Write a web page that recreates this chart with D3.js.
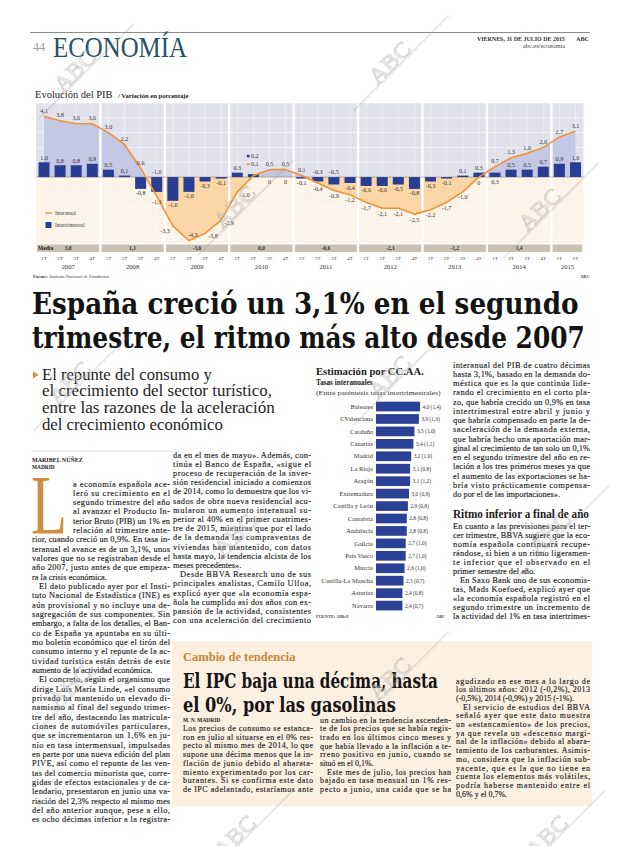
<!DOCTYPE html>
<html lang="es"><head><meta charset="utf-8">
<script src="https://cdn.jsdelivr.net/npm/d3@7/dist/d3.min.js"></script>
<style>html,body{margin:0;padding:0;background:#fff}svg{display:block}</style>
</head><body>
<svg id="page" width="620" height="846" xmlns="http://www.w3.org/2000/svg"></svg>
<script>
// ================= DATA =================
const years = ["2007","2008","2009","2010","2011","2012","2013","2014","2015"];
const quarterNames = ["1T","2T","3T","4T"];
const quartersPerYear = [4,4,4,4,4,4,4,4,2];
const interanual = [4.1,3.8,3.6,3.6, 3.0,2.2,0.6,-1.3, -3.3,-4.3,-3.8,-2.9, -1.0,0.1,0.5,0.5,
                    0.1,-0.4,-0.9,-1.2, -1.7,-2.1,-2.1,-2.5, -2.2,-1.7,-1.0,0.0, 0.7,1.3,1.6,2.0, 2.7,3.1];
const intertrimestral = [1.0,0.8,0.8,0.9, 0.5,0.1,-0.8,-1.0, -1.6,-1.0,-0.3,-0.1, 0.3,0.2,0,0,
                    -0.1,-0.3,-0.5,-0.4, -0.6,-0.6,-0.5,-0.8, -0.3,-0.1,0.1,0.3, 0.3,0.5,0.5,0.7, 0.9,1.0];
const mediaAnual = [3.8,1.1,-3.6,0.0,-0.6,-2.1,-1.2,1.4,null];

const regions = ["Baleares","CValenciana","Cataluña","Canarias","Madrid","La Rioja","Aragón","Extremadura",
  "Castilla y León","Cantabria","Andalucía","Galicia","País Vasco","Murcia","Castilla-La Mancha","Asturias","Navarra"];
const regionInteranual = [4.0,3.9,3.5,3.4,3.2,3.1,3.1,3.0,2.9,2.8,2.8,2.7,2.7,2.6,2.5,2.4,2.4];
const regionIntertrimestral = [1.4,1.3,1.0,1.1,1.0,0.8,1.2,0.9,0.8,0.8,0.8,1.0,1.0,1.0,0.7,0.8,0.7];

// ================= TEXT =================
const headline = ["España creció un 3,1% en el segundo","trimestre, el ritmo más alto desde 2007"];
const subhead = ["El repunte del consumo y","el crecimiento del sector turístico,","entre las razones de la aceleración","del crecimiento económico"];
const col1 = ["a economía española ace-","leró su crecimiento en el","segundo trimestre del año","al avanzar el Producto In-",
"terior Bruto (PIB) un 1% en","relación al trimestre ante-","rior, cuando creció un 0,9%. En tasa in-",
"teranual el avance es de un 3,1%, unos","valores que no se registraban desde el","año 2007, justo antes de que empeza-",
"ra la crisis económica.$",">El dato publicado ayer por el Insti-","tuto Nacional de Estadística (INE) es",
"aún provisional y no incluye una de-","sagregación de sus componentes. Sin","embargo, a falta de los detalles, el Ban-",
"co de España ya apuntaba en su últi-","mo boletín económico que el tirón del","consumo interno y el repunte de la ac-",
"tividad turística están detrás de este","aumento de la actividad económica.$",">El concreto, según el organismo que",
"dirige Luis María Linde, «el consumo","privado ha mantenido un elevado di-","namismo al final del segundo trimes-",
"tre del año, destacando las matricula-","ciones de automóviles particulares,","que se incrementaron un 1,6% en ju-",
"nio en tasa intermensual, impulsadas","en parte por una nueva edición del plan","PIVE, así como el repunte de las ven-",
"tas del comercio minorista que, corre-","gidas de efectos estacionales y de ca-","lendario, presentaron en junio una va-",
"riación del 2,3% respecto al mismo mes","del año anterior aunque, pese a ello,","es ocho décimas inferior a la registra-"];
const col2 = ["da en el mes de mayo». Además, con-","tinúa el Banco de España, «sigue el","proceso de recuperación de la inver-",
"sión residencial iniciado a comienzos","de 2014, como lo demuestra que los vi-","sados de obra nueva residencial acu-",
"mularon un aumento interanual su-","perior al 40% en el primer cuatrimes-","tre de 2015, mientras que por el lado",
"de la demanda las compraventas de","viviendas han mantenido, con datos","hasta mayo, la tendencia alcista de los",
"meses precedentes».$",">Desde BBVA Research uno de sus","principales analistas, Camilo Ulloa,",
"explicó ayer que «la economía espa-","ñola ha cumplido así dos años con ex-","pansión de la actividad, consistentes",
"con una aceleración del crecimiento"];
const col3a = ["interanual del PIB de cuatro décimas","hasta 3,1%, basado en la demanda do-","méstica que es la que continúa lide-",
"rando el crecimiento en el corto pla-","zo, que habría crecido un 0,9% en tasa","intertrimestral entre abril y junio y",
"que habría compensado en parte la de-","saceleración de la demanda externa,","que habría hecho una aportación mar-",
"ginal al crecimiento de tan solo un 0,1%","en el segundo trimestre del año en re-","lación a los tres primeros meses ya que",
"el aumento de las exportaciones se ha-","bría visto prácticamente compensa-","do por el de las importaciones».$"];
const col3b = ["En cuanto a las previsiones para el ter-","cer trimestre, BBVA sugiere que la eco-","nomía española continuará recupe-",
"rándose, si bien a un ritmo ligeramen-","te inferior que el observado en el","primer semestre del año.$",
">En Saxo Bank uno de sus economis-","tas, Mads Koefoed, explicó ayer que","«la economía española registró en el",
"segundo trimestre un incremento de","la actividad del 1% en tasa intertrimes-"];
const ipcA = ["Los precios de consumo se estanca-","ron en julio al situarse en el 0% res-","pecto al mismo mes de 2014, lo que",
"supone una décima menos que la in-","flación de junio debido al abarata-","miento experimentado por los car-",
"burantes. Si se confirma este dato","de IPC adelantado, estaríamos ante"];
const ipcB = ["un cambio en la tendencia ascenden-","te de los precios que se había regis-","trado en los últimos cinco meses y",
"que había llevado a la inflación a te-","rreno positivo en junio, cuando se","situó en el 0,1%.$",
">Este mes de julio, los precios han","bajado en tasa mensual un 1% res-","pecto a junio, una caída que se ha"];
const ipcC = ["agudizado en ese mes a lo largo de","los últimos años: 2012 (-0,2%), 2013","(-0,5%), 2014 (-0,9%) y 2015 (-1%).$",
">El servicio de estudios del BBVA","señaló ayer que este dato muestra","un «estancamiento» de los precios,",
"ya que revela un «descenso margi-","nal de la inflación» debido al abara-","tamiento de los carburantes. Asimis-",
"mo, considera que la inflación sub-","yacente, que es la que no tiene en","cuenta los elementos más volátiles,",
"podría haberse mantenido entre el","0,6% y el 0,7%.$"];

// ================= HELPERS =================
const svg = d3.select("#page");
const SERIF = "Liberation Serif, Times New Roman, serif";
const HF = "DejaVu Serif, serif";
const loc = d3.formatLocale({decimal:",", thousands:".", grouping:[3], currency:["","€"], minus:"-"});
const f1 = loc.format(".1f");
const fmt = v => v === 0 ? "0" : f1(v);

// place a text at (x,y) and scale it horizontally so that it spans width w
function fitAt(parent, str, x0, y0, w, attrs){
  const t = parent.append("text").attr("x",0).attr("y",0).text(str);
  Object.entries(attrs).forEach(([k,v])=>t.attr(k,v));
  const nat = t.node().getComputedTextLength();
  t.attr("transform",`translate(${x0},${y0}) scale(${w/nat},1)`);
  return t;
}

function drawBlock(lines, o){
  const g = svg.append("g").attr("font-family", o.family || SERIF).attr("font-size", o.size)
    .attr("fill", o.fill || "#1c1c1c").attr("stroke", o.fill || "#1c1c1c").attr("stroke-width", 0.14);
  lines.forEach((raw,i)=>{
    let s = raw, ind = 0, last = false;
    if (s[0] === ">") { s = s.slice(1); ind = o.indent || 8; }
    if (s.endsWith("$")) { s = s.slice(0,-1); last = true; }
    const xs = (o.startX ? o.startX(i) : o.x0) + ind;
    const yy = o.y0 + i*o.lh;
    const t = g.append("text").attr("x", 0).attr("y", 0).text(s);
    const w = t.node().getComputedTextLength();
    const target = o.x1 - xs;
    if (w > target) {
      t.attr("transform", `translate(${xs},${yy}) scale(${target/w},1)`);
    } else {
      t.attr("transform", `translate(${xs},${yy})`);
      if (!last) t.attr("textLength", target).attr("lengthAdjust","spacing");
    }
  });
  return g;
}

// ================= HEADER =================
svg.append("line").attr("x1",30).attr("x2",590).attr("y1",32.5).attr("y2",32.5).attr("stroke","#8c8c8c").attr("stroke-width",1);
svg.append("text").attr("x",33).attr("y",51).attr("font-family",SERIF).attr("font-size",12).attr("fill","#9d9d9d").text("44");
fitAt(svg,"ECONOMÍA",53,57,134,{"font-family":SERIF,"font-size":29,"fill":"#2c5064"});
fitAt(svg,"VIERNES, 31 DE JULIO DE 2015",477,41,88,{"font-family":SERIF,"font-weight":"bold","font-size":5.6,"fill":"#333"});
svg.append("text").attr("x",576).attr("y",41).attr("font-family",SERIF).attr("font-weight","bold").attr("font-size",6.2).attr("fill","#333").text("ABC");
fitAt(svg,"abc.es/economia",523,47.5,42,{"font-family":SERIF,"font-size":5.2,"fill":"#444"});

// ================= GDP CHART =================
const n = interanual.length;
const x = d3.scaleLinear().domain([0, n-1]).range([44, 575.5]);
const step = x(1) - x(0);
const y = d3.scaleLinear().domain([-4.45, 5]).range([243, 103]);
const PT = 103, PB = 243, Y0 = y(0);
let acc = 0;
const panels = years.map((yr,i)=>{ const s = acc; acc += quartersPerYear[i]; return {year:yr, s, e:acc-1, media:mediaAnual[i]}; });

const gC = svg.append("g");
gC.append("text").attr("x",35).attr("y",98).attr("font-family",SERIF).attr("font-size",10.5).attr("fill","#222").text("Evolución del PIB");
gC.append("text").attr("x",118).attr("y",97.5).attr("font-family",SERIF).attr("font-weight","bold").attr("font-size",6.6).attr("fill","#222").text("/ Variación en porcentaje");

panels.forEach(p=>{
  const xa = x(p.s) - step/2, xb = x(p.e) + step/2;
  gC.append("rect").attr("x",xa).attr("y",PT).attr("width",xb-xa).attr("height",Y0-PT).attr("fill","#e1e1ec");
  gC.append("rect").attr("x",xa).attr("y",Y0).attr("width",xb-xa).attr("height",PB-Y0).attr("fill","#fdf3e6");
});
const XL = x(0)-step/2, XR = x(n-1)+step/2;
d3.range(-4,6).filter(v=>v!==0).forEach(v=>{
  gC.append("line").attr("x1",XL).attr("x2",XR).attr("y1",y(v)).attr("y2",y(v)).attr("stroke","#fff").attr("stroke-width",0.6).attr("opacity",0.9);
});
d3.range(n).forEach(i=>{
  gC.append("line").attr("x1",x(i)).attr("x2",x(i)).attr("y1",PT).attr("y2",PB).attr("stroke","#fff").attr("stroke-width",0.5).attr("opacity",0.8);
});
const defs = svg.append("defs");
defs.append("clipPath").attr("id","clipUp").append("rect").attr("x",0).attr("y",PT).attr("width",620).attr("height",Y0-PT);
defs.append("clipPath").attr("id","clipDn").append("rect").attr("x",0).attr("y",Y0).attr("width",620).attr("height",PB-Y0);
const area = d3.area().x((d,i)=>x(i)).y0(Y0).y1(d=>y(d));
gC.append("path").datum(interanual).attr("d",area).attr("fill","#c4c8e4").attr("clip-path","url(#clipUp)");
gC.append("path").datum(interanual).attr("d",area).attr("fill","#fbd6a6").attr("clip-path","url(#clipDn)");
panels.slice(1).forEach(p=>{
  gC.append("rect").attr("x",x(p.s)-step/2-1.2).attr("y",PT).attr("width",2.4).attr("height",PB-PT+1).attr("fill","#fff");
});
gC.append("line").attr("x1",XL).attr("x2",XR).attr("y1",Y0).attr("y2",Y0).attr("stroke","#777").attr("stroke-width",0.5);
gC.selectAll("rect.bar").data(intertrimestral).join("rect").attr("class","bar")
  .attr("x",(d,i)=>x(i)-5.5).attr("width",11)
  .attr("y",d=>Math.min(y(d),Y0)).attr("height",d=>Math.abs(y(d)-Y0)).attr("fill","#293d93");
gC.append("path").datum(interanual).attr("d", d3.line().x((d,i)=>x(i)).y(d=>y(d)))
  .attr("fill","none").attr("stroke","#ef9339").attr("stroke-width",1.6).attr("stroke-linejoin","round");
// label placement rules (style only)
const barMode = {7:"aboveZero", 13:"special", 17:"aboveZero", 18:"aboveZero", 28:"belowZero"};
const lineMode = {8:"left", 9:"rightUp", 10:"right", 11:"right", 12:"right", 13:"special"};
const gL = gC.append("g").attr("font-family",SERIF).attr("font-size",6.1).attr("fill","#333").attr("text-anchor","middle");
intertrimestral.forEach((v,i)=>{
  const m = barMode[i];
  if (m === "special") return;
  let ly;
  if (m === "aboveZero") ly = Y0 - 3;
  else if (m === "belowZero") ly = Y0 + 6.5;
  else if (v > 0) ly = y(v) - 2.5;
  else if (v < 0) ly = y(v) + 6.5;
  else ly = Y0 + 6.5;
  gL.append("text").attr("x",x(i)).attr("y",ly).text(fmt(v));
});
interanual.forEach((v,i)=>{
  const m = lineMode[i];
  if (m === "special") return;
  let lx = x(i), ly, anchor = "middle";
  if (m === "left") { lx = x(i)-3; ly = y(v)+7; anchor = "end"; }
  else if (m === "rightUp") { lx = x(i)-1; ly = y(v)-4; anchor = "start"; }
  else if (m === "right") { lx = x(i)+3; ly = y(v)+5; anchor = "start"; }
  else if (v > 0) ly = y(v) - 3.5;
  else ly = y(v) + 7.5;
  gL.append("text").attr("x",lx).attr("y",ly).attr("text-anchor",anchor).text(fmt(v));
});
{
  const i = 13;
  gC.append("rect").attr("x",x(i)-6.5).attr("y",154.8).attr("width",2.6).attr("height",2.6).attr("fill","#293d93");
  gL.append("text").attr("x",x(i)-2.5).attr("y",158).attr("text-anchor","start").text(fmt(intertrimestral[i]));
  gC.append("circle").attr("cx",x(i)-5.2).attr("cy",164.3).attr("r",1.3).attr("fill","#ef9339");
  gL.append("text").attr("x",x(i)-2.5).attr("y",166.3).attr("text-anchor","start").text(fmt(interanual[i]));
}
const gLeg = gC.append("g").attr("font-family",SERIF).attr("font-size",5.2).attr("fill","#444");
gLeg.append("line").attr("x1",45).attr("x2",52).attr("y1",213).attr("y2",213).attr("stroke","#ef9339").attr("stroke-width",1.4);
gLeg.append("text").attr("x",55).attr("y",215).text("Interanual");
gLeg.append("rect").attr("x",45.5).attr("y",222).attr("width",6).attr("height",6).attr("fill","#293d93");
gLeg.append("text").attr("x",55).attr("y",227).text("Intertrimestral");
panels.forEach((p,k)=>{
  const xa = x(p.s) - step/2 + 1.2, xb = x(p.e) + step/2 - 1.2;
  gC.append("rect").attr("x",xa).attr("y",244.5).attr("width",xb-xa).attr("height",7.5).attr("fill","#c9c2b4");
  if (p.media !== null) gC.append("text").attr("x",(xa+xb)/2).attr("y",250.4).attr("text-anchor","middle")
    .attr("font-family",SERIF).attr("font-weight","bold").attr("font-size",5.6).attr("fill","#333").text(f1(p.media));
  gC.append("text").attr("x",(xa+xb)/2).attr("y",268.5).attr("text-anchor","middle")
    .attr("font-family",SERIF).attr("font-size",6.6).attr("fill","#333").text(p.year);
  d3.range(p.s,p.e+1).forEach((qi,j)=>{
    gC.append("text").attr("x",x(qi)).attr("y",259.5).attr("text-anchor","middle")
      .attr("font-family",SERIF).attr("font-size",5).attr("fill","#444").text(quarterNames[j]);
  });
});
gC.append("text").attr("x",38).attr("y",250.4).attr("font-family",SERIF).attr("font-weight","bold").attr("font-size",5.6).attr("fill","#222").text("Media");
const gF = gC.append("text").attr("x",33).attr("y",277.5).attr("font-family",SERIF).attr("font-size",4.6).attr("fill","#444");
gF.append("tspan").attr("font-weight","bold").text("Fuente: ");
gF.append("tspan").text("Instituto Nacional de Estadística");
gC.append("text").attr("x",580).attr("y",277.5).attr("font-family",SERIF).attr("font-weight","bold").attr("font-size",4.6).attr("fill","#444").text("ABC");

// ================= HEADLINE =================
fitAt(svg, headline[0], 32, 314, 547, {"font-family":HF,"font-weight":"bold","font-size":29,"fill":"#141414"});
fitAt(svg, headline[1], 32, 348, 553, {"font-family":HF,"font-weight":"bold","font-size":29,"fill":"#141414"});

svg.append("path").attr("d","M33,371.5 L38.5,375 L33,378.5 Z").attr("fill","#e08a33");
const subW = [170,230,233,181];
subhead.forEach((s,i)=>{
  fitAt(svg, s, 42, 379.5+i*16.7, subW[i], {"font-family":SERIF,"font-size":16.5,"fill":"#1e1e1e"});
});

svg.append("line").attr("x1",32).attr("x2",170).attr("y1",451).attr("y2",451).attr("stroke","#cfcfcf").attr("stroke-width",0.8);
svg.append("text").attr("x",32).attr("y",461.5).attr("font-family",SERIF).attr("font-weight","bold").attr("font-size",6).attr("fill","#222").text("MARIBEL NÚÑEZ");
svg.append("text").attr("x",32).attr("y",468.5).attr("font-family",SERIF).attr("font-weight","bold").attr("font-size",5.4).attr("fill","#222").text("MADRID");
fitAt(svg, "L", 31, 533.5, 36, {"font-family":SERIF,"font-size":84,"fill":"#d08d42"});

const LH = 9.33, FS = 8.4;
drawBlock(col1, {x0:32, x1:170, y0:486.5, lh:LH, size:FS, indent:7, startX: i => i < 6 ? 73 : 32});
drawBlock(col2, {x0:173, x1:311, y0:457.5, lh:9.2, size:FS, indent:7});
drawBlock(col3a, {x0:453, x1:590, y0:367.5, lh:9.25, size:FS, indent:7});
fitAt(svg, "Ritmo inferior a final de año", 453, 518, 136, {"font-family":SERIF,"font-weight":"bold","font-size":11.8,"fill":"#1a1a1a"});
drawBlock(col3b, {x0:453, x1:590, y0:528.5, lh:9.05, size:FS, indent:7});

// ================= CCAA CHART =================
const gR = svg.append("g");
fitAt(gR, "Estimación por CC.AA.", 316, 375, 108, {"font-family":SERIF,"font-weight":"bold","font-size":10.2,"fill":"#222"});
gR.append("text").attr("x",316).attr("y",384.5).attr("font-family",SERIF).attr("font-weight","bold").attr("font-size",7.2).attr("fill","#222").text("Tasas interanuales");
fitAt(gR, "(Entre paréntesis tasas intertrimestrales)", 316, 394.5, 125, {"font-family":SERIF,"font-size":6.8,"fill":"#333"});
const yR = d3.scaleBand().domain(regions).range([400.3, 611.8]).paddingInner(0.22).paddingOuter(0.11);
const xR = d3.scaleLinear().domain([0,4]).range([376,420]);
gR.selectAll("rect.rb").data(regions).join("rect").attr("class","rb")
  .attr("x",xR(0)).attr("y",d=>yR(d)).attr("height",yR.bandwidth())
  .attr("width",(d,i)=>xR(regionInteranual[i])-xR(0)).attr("fill","#2a4196");
gR.selectAll("text.rl").data(regions).join("text").attr("class","rl")
  .attr("x",373).attr("y",d=>yR(d)+yR.bandwidth()/2+2.2).attr("text-anchor","end")
  .attr("font-family",SERIF).attr("font-size",6.5).attr("fill","#333").text(d=>d);
gR.selectAll("text.rv").data(regions).join("text").attr("class","rv")
  .attr("x",(d,i)=>xR(regionInteranual[i])+2.5).attr("y",d=>yR(d)+yR.bandwidth()/2+2)
  .attr("font-family",SERIF).attr("font-size",5.4).attr("fill","#333")
  .text((d,i)=>`${f1(regionInteranual[i])} (${f1(regionIntertrimestral[i])})`);
gR.append("text").attr("x",316).attr("y",618).attr("font-family",SERIF).attr("font-weight","bold").attr("font-size",4.4).attr("fill","#444").text("FUENTE: AIReF");
gR.append("text").attr("x",436).attr("y",618).attr("font-family",SERIF).attr("font-weight","bold").attr("font-size",4.4).attr("fill","#444").text("ABC");

// ================= IPC BOX =================
svg.append("rect").attr("x",172).attr("y",641).attr("width",420).attr("height",165).attr("fill","#fdf0e1");
svg.append("text").attr("x",183).attr("y",661).attr("font-family",SERIF).attr("font-weight","bold").attr("font-size",12.5).attr("fill","#c98536").text("Cambio de tendencia");
fitAt(svg, "El IPC baja una décima, hasta", 183, 688, 255, {"font-family":HF,"font-weight":"bold","font-size":20,"fill":"#141414"});
fitAt(svg, "el 0%, por las gasolinas", 183, 712, 213, {"font-family":HF,"font-weight":"bold","font-size":20,"fill":"#141414"});
svg.append("text").attr("x",183).attr("y",722).attr("font-family",SERIF).attr("font-weight","bold").attr("font-size",5.4).attr("fill","#222").text("M. N. MADRID");
drawBlock(ipcA, {x0:183, x1:313, y0:731, lh:8.7, size:8, indent:7});
drawBlock(ipcB, {x0:320, x1:451, y0:722.5, lh:8.7, size:8, indent:7});
drawBlock(ipcC, {x0:456, x1:590, y0:683.5, lh:8.7, size:8, indent:7});

// ================= WATERMARKS =================
const wmPos = [[80,76],[395,68],[240,212],[545,215],[75,388],[395,382],[240,540],[555,538],[75,692],[395,684],[240,842],[552,842]];
const gW = svg.append("g").attr("opacity",0.5);
wmPos.forEach(([cx,cy])=>{
  const g = gW.append("g").attr("transform",`translate(${cx},${cy}) rotate(-45)`);
  g.append("line").attr("x1",-60).attr("x2",75).attr("y1",1).attr("y2",1).attr("stroke","#8d8d8d").attr("stroke-width",0.8);
  g.append("text").attr("x",0).attr("y",0).attr("text-anchor","middle").attr("font-family",SERIF)
    .attr("font-size",24).attr("fill","#e2e2e2").attr("stroke","#8f8f8f").attr("stroke-width",0.7).text("ABC");
});
</script>
</body></html>
